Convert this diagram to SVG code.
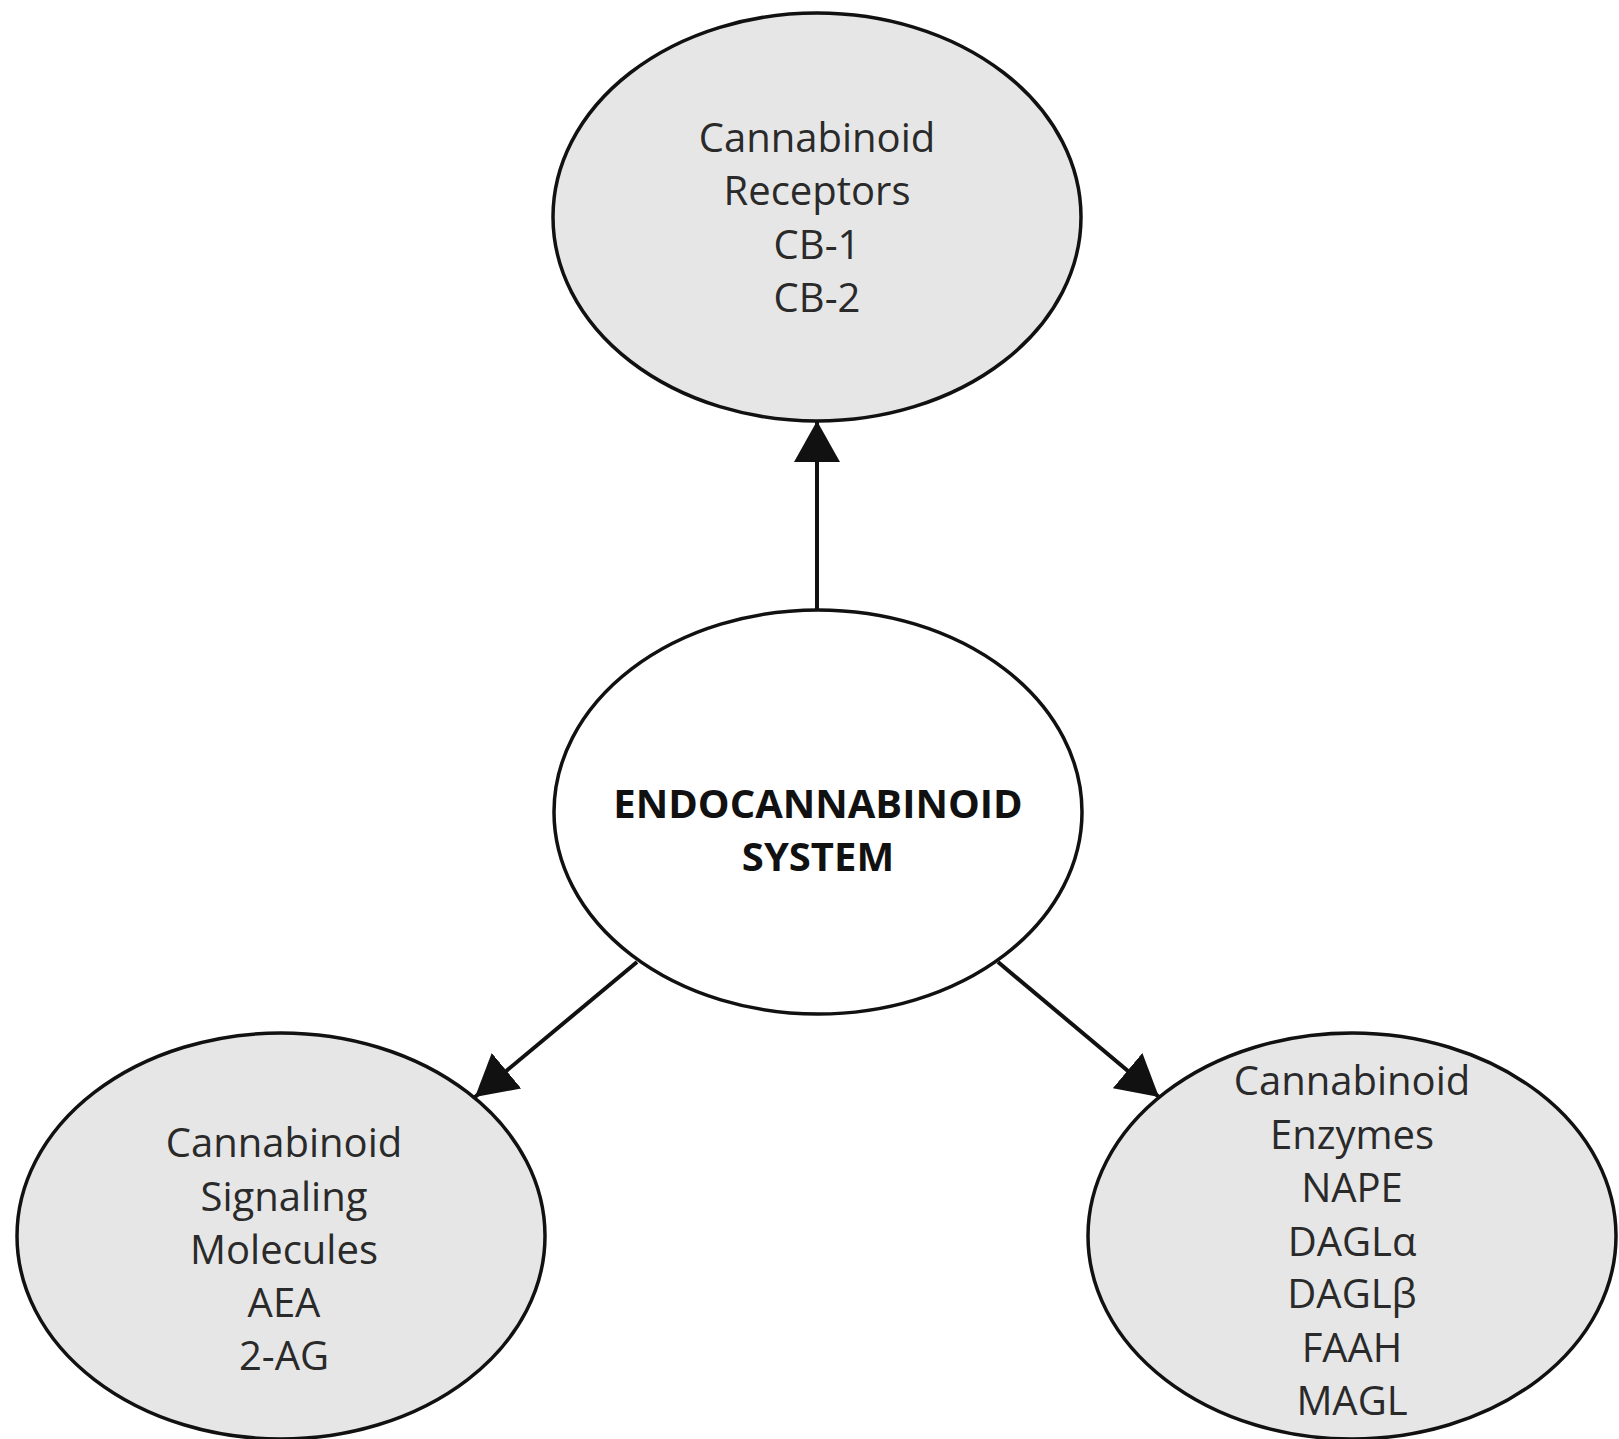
<svg xmlns="http://www.w3.org/2000/svg" width="1619" height="1439" viewBox="0 0 1619 1439">
<style>
.node{fill:#e6e6e6;stroke:#111;stroke-width:3.5}
.center{fill:#fff;stroke:#111;stroke-width:3.5}
.lbl{font-family:"Open Sans","Noto Sans",sans-serif;font-size:40px;fill:#2a2a2a;text-anchor:middle}
.bold{font-family:"Open Sans","Noto Sans",sans-serif;font-size:40px;font-weight:bold;fill:#111;text-anchor:middle}
.conn{stroke:#111;stroke-width:4;fill:none}
</style>
<defs>
<marker id="arr" viewBox="0 0 41 46" refX="41" refY="23" markerWidth="41" markerHeight="46" markerUnits="userSpaceOnUse" orient="auto">
<path d="M0,0 L41,23 L0,46 Z" fill="#111"/>
</marker>
</defs>
<rect width="1619" height="1439" fill="#fff"/>
<g id="connectors">
<line class="conn" x1="817" y1="610" x2="817" y2="421" marker-end="url(#arr)"/>
<line class="conn" x1="637" y1="962" x2="475" y2="1097" marker-end="url(#arr)"/>
<line class="conn" x1="998" y1="962" x2="1159" y2="1097" marker-end="url(#arr)"/>
</g>
<g id="receptors">
<ellipse class="node" cx="817" cy="217" rx="264" ry="204"/>
<text class="lbl" x="817" y="152">Cannabinoid</text>
<text class="lbl" x="817" y="205">Receptors</text>
<text class="lbl" x="817" y="259">CB-1</text>
<text class="lbl" x="817" y="312">CB-2</text>
</g>
<g id="system">
<ellipse class="center" cx="818" cy="812" rx="264" ry="202"/>
<text class="bold" x="818" y="818">ENDOCANNABINOID</text>
<text class="bold" x="818" y="871">SYSTEM</text>
</g>
<g id="molecules">
<ellipse class="node" cx="281" cy="1236" rx="264" ry="203"/>
<text class="lbl" x="284" y="1157">Cannabinoid</text>
<text class="lbl" x="284" y="1211">Signaling</text>
<text class="lbl" x="284" y="1264">Molecules</text>
<text class="lbl" x="284" y="1317">AEA</text>
<text class="lbl" x="284" y="1370">2-AG</text>
</g>
<g id="enzymes">
<ellipse class="node" cx="1352" cy="1236" rx="264" ry="203"/>
<text class="lbl" x="1352" y="1095">Cannabinoid</text>
<text class="lbl" x="1352" y="1149">Enzymes</text>
<text class="lbl" x="1352" y="1202">NAPE</text>
<text class="lbl" x="1352" y="1256">DAGLα</text>
<text class="lbl" x="1352" y="1308">DAGLβ</text>
<text class="lbl" x="1352" y="1362">FAAH</text>
<text class="lbl" x="1352" y="1415">MAGL</text>
</g>
</svg>
